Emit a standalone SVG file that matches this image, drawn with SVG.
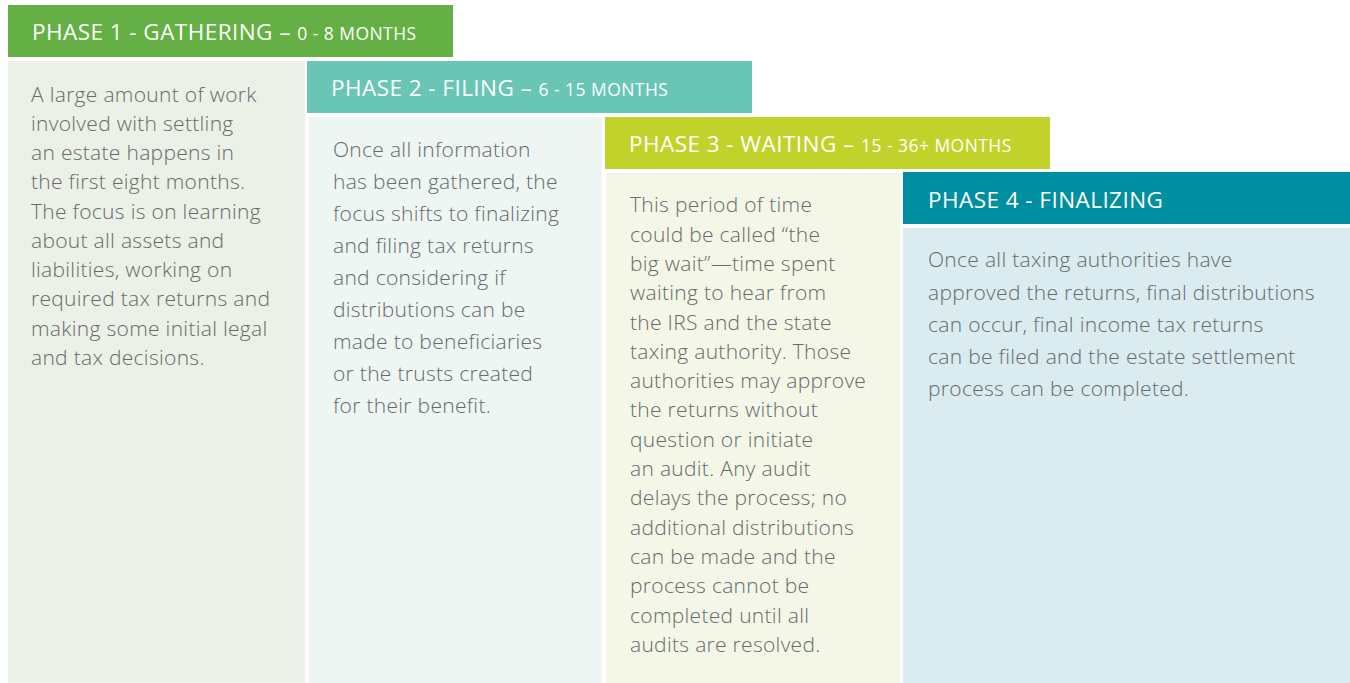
<svg xmlns="http://www.w3.org/2000/svg" width="1350" height="683" viewBox="0 0 1350 683">
  <style>
    .hdr { font-family: "Open Sans", "Liberation Sans", sans-serif; fill: #ffffff; font-size: 22.5px; letter-spacing: 0.45px; }
    .hdr .sub { font-size: 17.5px; }
    .body { font-family: "Open Sans", "Liberation Sans", sans-serif; font-weight: 300; fill: #666a6b; font-size: 21px; letter-spacing: 0.3px; }
  </style>
  <rect width="1350" height="683" fill="#ffffff"/>

  <!-- Phase 1 -->
  <g id="phase1">
    <rect x="8" y="61" width="297" height="622" fill="#ebf1e6"/>
    <rect x="8" y="5" width="445" height="52" fill="#65b045"/>
    <text class="hdr" x="32" y="40">PHASE 1 - GATHERING – <tspan class="sub">0 - 8 MONTHS</tspan></text>
    <text class="body">
      <tspan x="31" y="101.5">A large amount of work</tspan>
      <tspan x="31" y="130.8">involved with settling</tspan>
      <tspan x="31" y="160">an estate happens in</tspan>
      <tspan x="31" y="189.3">the first eight months.</tspan>
      <tspan x="31" y="218.5">The focus is on learning</tspan>
      <tspan x="31" y="247.8">about all assets and</tspan>
      <tspan x="31" y="277">liabilities, working on</tspan>
      <tspan x="31" y="306.3">required tax returns and</tspan>
      <tspan x="31" y="335.5">making some initial legal</tspan>
      <tspan x="31" y="364.8">and tax decisions.</tspan>
    </text>
  </g>

  <!-- Phase 2 -->
  <g id="phase2">
    <rect x="309" y="117" width="293" height="566" fill="#edf6f3"/>
    <rect x="307" y="61" width="445" height="52" fill="#69c6b5"/>
    <text class="hdr" x="331" y="96">PHASE 2 - FILING – <tspan class="sub">6 - 15 MONTHS</tspan></text>
    <text class="body">
      <tspan x="333" y="156.7">Once all information</tspan>
      <tspan x="333" y="188.7">has been gathered, the</tspan>
      <tspan x="333" y="220.7">focus shifts to finalizing</tspan>
      <tspan x="333" y="252.7">and filing tax returns</tspan>
      <tspan x="333" y="284.7">and considering if</tspan>
      <tspan x="333" y="316.7">distributions can be</tspan>
      <tspan x="333" y="348.7">made to beneficiaries</tspan>
      <tspan x="333" y="380.7">or the trusts created</tspan>
      <tspan x="333" y="412.7">for their benefit.</tspan>
    </text>
  </g>

  <!-- Phase 3 -->
  <g id="phase3">
    <rect x="606" y="173" width="294" height="510" fill="#f4f7e8"/>
    <rect x="605" y="117" width="445" height="52" fill="#c1d32b"/>
    <text class="hdr" x="629" y="152">PHASE 3 - WAITING – <tspan class="sub">15 - 36+ MONTHS</tspan></text>
    <text class="body">
      <tspan x="630" y="212.3">This period of time</tspan>
      <tspan x="630" y="241.6">could be called “the</tspan>
      <tspan x="630" y="270.9">big wait”—time spent</tspan>
      <tspan x="630" y="300.2">waiting to hear from</tspan>
      <tspan x="630" y="329.5">the IRS and the state</tspan>
      <tspan x="630" y="358.8">taxing authority. Those</tspan>
      <tspan x="630" y="388.1">authorities may approve</tspan>
      <tspan x="630" y="417.4">the returns without</tspan>
      <tspan x="630" y="446.7">question or initiate</tspan>
      <tspan x="630" y="476">an audit. Any audit</tspan>
      <tspan x="630" y="505.3">delays the process; no</tspan>
      <tspan x="630" y="534.6">additional distributions</tspan>
      <tspan x="630" y="563.9">can be made and the</tspan>
      <tspan x="630" y="593.2">process cannot be</tspan>
      <tspan x="630" y="622.5">completed until all</tspan>
      <tspan x="630" y="651.8">audits are resolved.</tspan>
    </text>
  </g>

  <!-- Phase 4 -->
  <g id="phase4">
    <rect x="903" y="228" width="447" height="455" fill="#daecef"/>
    <rect x="903" y="172" width="447" height="52" fill="#008fa0"/>
    <text class="hdr" x="928" y="208">PHASE 4 - FINALIZING</text>
    <text class="body">
      <tspan x="928" y="267.3">Once all taxing authorities have</tspan>
      <tspan x="928" y="299.5">approved the returns, final distributions</tspan>
      <tspan x="928" y="331.7">can occur, final income tax returns</tspan>
      <tspan x="928" y="363.9">can be filed and the estate settlement</tspan>
      <tspan x="928" y="396">process can be completed.</tspan>
    </text>
  </g>

  <!-- no connectors in this layout -->
  <g id="connectors"/>
</svg>
